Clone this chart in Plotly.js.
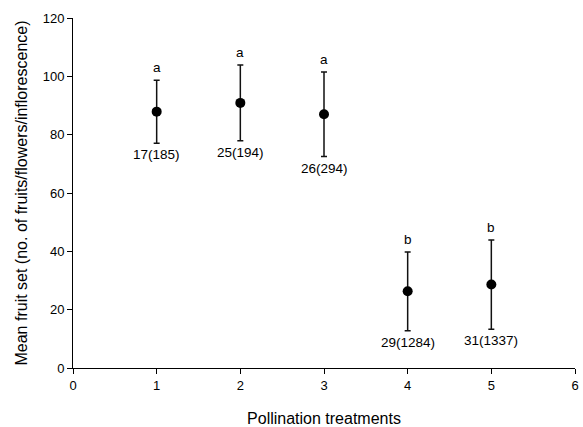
<!DOCTYPE html>
<html>
<head>
<meta charset="utf-8">
<script src="https://cdn.plot.ly/plotly-3.0.1.min.js"></script>
<style>html,body{margin:0;padding:0;background:#fff;}#chart{width:583px;height:427px;}</style>
</head>
<body>
<div id="chart"></div>
<script>
var treatments = [1, 2, 3, 4, 5];
var meanFruitSet = [87.9, 90.9, 87.0, 26.3, 28.6];
var errorValues = [10.8, 13.0, 14.5, 13.5, 15.3];
var letterLabels = ["a", "a", "a", "b", "b"];
var sampleLabels = ["17(185)", "25(194)", "26(294)", "29(1284)", "31(1337)"];

var font = "Liberation Sans, Arial, sans-serif";

var trace = {
  x: treatments,
  y: meanFruitSet,
  type: "scatter",
  mode: "markers",
  marker: {color: "#000", size: 10},
  error_y: {type: "data", array: errorValues, visible: true, color: "#111", thickness: 1.5, width: 3},
  showlegend: false,
  hoverinfo: "x+y"
};

var annotations = [];
treatments.forEach(function (t, i) {
  annotations.push({
    x: t, y: meanFruitSet[i] + errorValues[i], xref: "x", yref: "y",
    text: letterLabels[i], showarrow: false, yanchor: "bottom", yshift: 3,
    font: {family: font, size: 13.5, color: "#000"}
  });
  annotations.push({
    x: t, y: meanFruitSet[i] - errorValues[i], xref: "x", yref: "y",
    text: sampleLabels[i], showarrow: false, yanchor: "top", yshift: -2,
    font: {family: font, size: 13.5, color: "#000"}
  });
});

var layout = {
  width: 583, height: 427,
  margin: {l: 73, r: 8, t: 18, b: 59},
  paper_bgcolor: "#fff", plot_bgcolor: "#fff",
  font: {family: font, color: "#000", size: 13},
  xaxis: {
    range: [0, 6], dtick: 1, tick0: 0, showgrid: false, zeroline: false,
    showline: true, linecolor: "#000", linewidth: 1,
    ticks: "outside", ticklen: 5, tickcolor: "#000", tickwidth: 1,
    tickfont: {family: font, size: 13, color: "#000"},
    title: {text: "Pollination treatments", font: {family: font, size: 16, color: "#000"}, standoff: 21}
  },
  yaxis: {
    range: [0, 120], dtick: 20, tick0: 0, showgrid: false, zeroline: false,
    showline: true, linecolor: "#000", linewidth: 1,
    ticks: "outside", ticklen: 5, tickcolor: "#000", tickwidth: 1,
    tickfont: {family: font, size: 13, color: "#000"},
    title: {text: "Mean fruit set (no. of fruits/flowers/inflorescence)", font: {family: font, size: 16, color: "#000"}, standoff: 11}
  },
  annotations: annotations
};

Plotly.newPlot("chart", [trace], layout, {displayModeBar: false, staticPlot: true});
</script>
</body>
</html>
